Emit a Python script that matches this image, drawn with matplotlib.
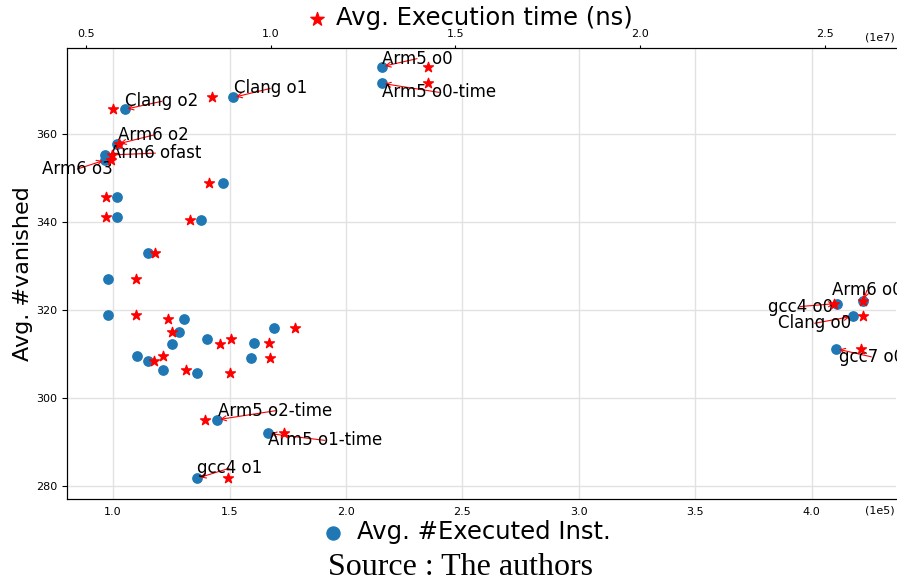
import matplotlib
matplotlib.use("Agg")
import matplotlib.pyplot as plt
from matplotlib.ticker import FuncFormatter, MultipleLocator

# values
names = ["Arm5 o0", "Arm5 o0-time", "Clang o1", "Clang o2", "Arm6 o2", "Arm6 ofast", "Arm6 o3",
         "", "", "", "", "", "", "", "", "", "", "", "", "", "", "", "", "", "",
         "Arm5 o2-time", "Arm5 o1-time", "gcc4 o1",
         "Arm6 o0", "gcc4 o0", "Clang o0", "gcc7 o0"]
exec_inst = [2.155e5, 2.155e5, 1.516e5, 1.050e5, 1.018e5, 0.967e5, 0.967e5,
             1.470e5, 1.018e5, 1.018e5, 1.379e5, 1.150e5, 0.980e5, 0.980e5,
             1.306e5, 1.281e5, 1.693e5, 1.403e5, 1.255e5, 1.607e5, 1.103e5,
             1.593e5, 1.150e5, 1.216e5, 1.361e5,
             1.448e5, 1.665e5, 1.361e5,
             4.220e5, 4.110e5, 4.176e5, 4.106e5]
exec_time = [1.426e7, 1.426e7, 0.840e7, 0.574e7, 0.590e7, 0.570e7, 0.567e7,
             0.834e7, 0.554e7, 0.554e7, 0.781e7, 0.686e7, 0.634e7, 0.634e7,
             0.721e7, 0.732e7, 1.066e7, 0.892e7, 0.863e7, 0.995e7, 0.709e7,
             0.998e7, 0.685e7, 0.771e7, 0.890e7,
             0.822e7, 1.037e7, 0.884e7,
             2.604e7, 2.524e7, 2.604e7, 2.598e7]
vanished = [375.3, 371.5, 368.3, 365.6, 357.7, 355.2, 354.1,
            348.9, 345.8, 341.2, 340.4, 332.9, 327.0, 319.0,
            318.0, 315.0, 315.9, 313.5, 312.3, 312.5, 309.5,
            309.1, 308.5, 306.3, 305.8,
            295.1, 292.0, 281.8,
            322.0, 321.5, 318.6, 311.2]

# where each label sits relative to its point (pixels)
label_offsets = {
    "Arm5 o0": (35, 8), "Arm5 o0-time": (57, -9), "Clang o1": (37, 9),
    "Clang o2": (37, 8), "Arm6 o2": (36, 9), "Arm6 ofast": (50, 2),
    "Arm6 o3": (-28, -9), "Arm5 o2-time": (58, 9), "Arm5 o1-time": (57, -7),
    "gcc4 o1": (32, 10), "Arm6 o0": (4, 11), "gcc4 o0": (-37, -3),
    "Clang o0": (-38, -7), "gcc7 o0": (35, -8),
}

fig = plt.figure(figsize=(8.97, 5.79), dpi=100)
ax = fig.add_axes([0.0744, 0.1382, 0.9245, 0.7794])
ax2 = ax.twiny()

ax.set_axisbelow(True)
ax.grid(True, color="#e2e2e2", lw=1)

dots = ax.scatter(exec_inst, vanished, s=45, color="#1f77b4", zorder=3,
                  label="Avg. #Executed Inst.")
stars = ax2.scatter(exec_time, vanished, s=55, marker="*", color="red", zorder=3,
                    label="Avg. Execution time (ns)")

for name, x, y in zip(names, exec_inst, vanished):
    if not name:
        continue
    ax.annotate(name, xy=(x, y), xytext=label_offsets[name], textcoords="offset pixels",
                ha="center", va="center", fontsize=12,
                arrowprops=dict(arrowstyle="->", color="red", lw=0.8,
                                patchA=None, shrinkA=0, mutation_scale=9))

ax.set_xlim(0.801e5, 4.362e5)
ax2.set_xlim(0.4477e7, 2.693e7)
ax.set_ylim(277.1, 379.6)

ax.xaxis.set_major_locator(MultipleLocator(0.5e5))
ax.xaxis.set_major_formatter(FuncFormatter(lambda v, p: f"{v / 1e5:.1f}"))
ax2.xaxis.set_major_locator(MultipleLocator(0.5e7))
ax2.xaxis.set_major_formatter(FuncFormatter(lambda v, p: f"{v / 1e7:.1f}"))
ax.yaxis.set_major_locator(MultipleLocator(20))

ax.tick_params(axis="x", length=0, pad=6, labelsize=8)
ax.tick_params(axis="y", labelsize=8)
ax2.tick_params(axis="x", length=2.5, pad=3.5, labelsize=8)

for a in (ax, ax2):
    a.spines["right"].set_visible(False)

ax.text(0.998, -0.0155, "(1e5)", transform=ax.transAxes, ha="right", va="top", fontsize=8)
ax2.text(0.998, 1.012, "(1e7)", transform=ax2.transAxes, ha="right", va="bottom", fontsize=8)

ax.set_ylabel("Avg. #vanished", fontsize=16, labelpad=2)

fig.legend(handles=[stars], loc="center", bbox_to_anchor=(0.5255, 0.969), frameon=False,
           fontsize=17.5, markerscale=1.35, handlelength=0.6, handletextpad=0.5,
           borderpad=0, borderaxespad=0)
fig.legend(handles=[dots], loc="center", bbox_to_anchor=(0.5218, 0.081), frameon=False,
           fontsize=17.5, markerscale=1.4, handlelength=0.6, handletextpad=0.7,
           borderpad=0, borderaxespad=0)

fig.text(0.513, 0.007, "Source : The authors", ha="center", va="baseline",
         family="Liberation Serif", fontsize=23)

fig.savefig("out.png", dpi=100)
